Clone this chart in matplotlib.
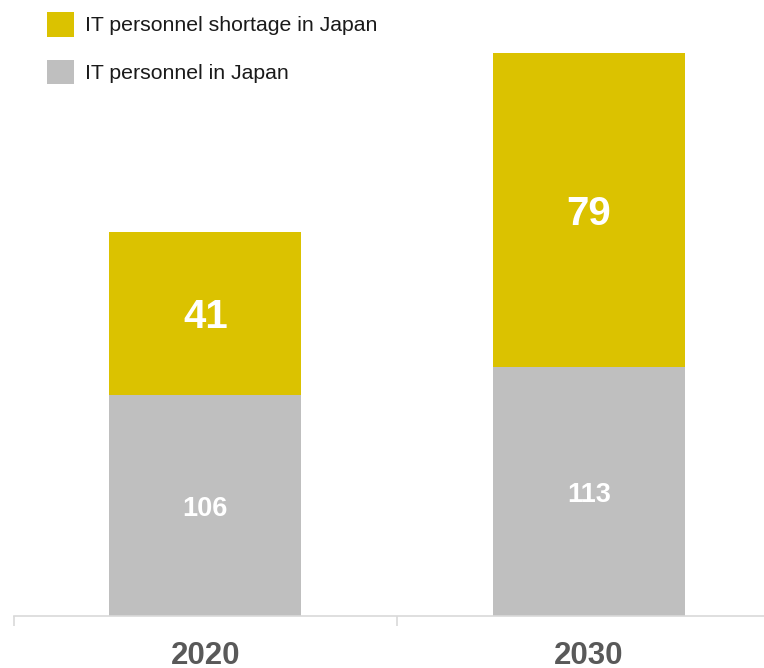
import matplotlib
matplotlib.use('Agg')
import matplotlib.pyplot as plt

years = ['2020', '2030']
personnel = [106, 113]
shortage = [41, 79]
series_names = ['IT personnel shortage in Japan', 'IT personnel in Japan']

YELLOW = '#dbc200'
GREY = '#bfbfbf'
y_floor = 50.25

plt.rcParams['font.family'] = ['Liberation Sans', 'DejaVu Sans']

fig = plt.figure(figsize=(7.64, 6.68), dpi=100)
ax = fig.add_axes([13.5 / 764, 0.0771, 767 / 764, 0.844])

x = list(range(len(years)))
b_pers = ax.bar(x, personnel, width=0.5, color=GREY, zorder=2)
b_short = ax.bar(x, shortage, width=0.5, bottom=personnel, color=YELLOW, zorder=2)

ax.set_xlim(-0.5, len(years) - 0.5)
ax.set_ylim(y_floor, personnel[1] + shortage[1])

# value labels, centred on the visible part of each segment
for xi, p, s in zip(x, personnel, shortage):
    ax.text(xi, (y_floor + p) / 2, str(p), ha='center', va='center_baseline',
            color='white', fontsize=19.5, fontweight='bold')
    ax.text(xi, p + s / 2, str(s), ha='center', va='center_baseline',
            color='white', fontsize=29, fontweight='bold')

for side in ['left', 'right', 'top']:
    ax.spines[side].set_visible(False)
ax.spines['bottom'].set_color('#d9d9d9')
ax.spines['bottom'].set_linewidth(1.2)
ax.set_yticks([])

# boundary ticks between categories, labels on minor ticks at the centres
ax.set_xticks([i - 0.5 for i in range(len(years) + 1)])
ax.set_xticklabels([])
ax.tick_params(axis='x', which='major', length=7.5, width=1.2, color='#d9d9d9')
ax.set_xticks(x, minor=True)
ax.set_xticklabels(years, minor=True)
ax.tick_params(axis='x', which='minor', length=0, pad=17.5, labelsize=22.5,
               labelcolor='#595959')
for lbl in ax.get_xticklabels(minor=True):
    lbl.set_fontweight('bold')

fig.legend([b_short, b_pers], series_names, loc='upper left',
           bbox_to_anchor=(46.7 / 764, 1 - 12 / 668), frameon=False,
           fontsize=15.3, handlelength=1.27, handleheight=1.4,
           handletextpad=0.52, labelspacing=1.1, borderpad=0,
           borderaxespad=0, labelcolor='#1a1a1a')

fig.savefig('out.png', dpi=100)
